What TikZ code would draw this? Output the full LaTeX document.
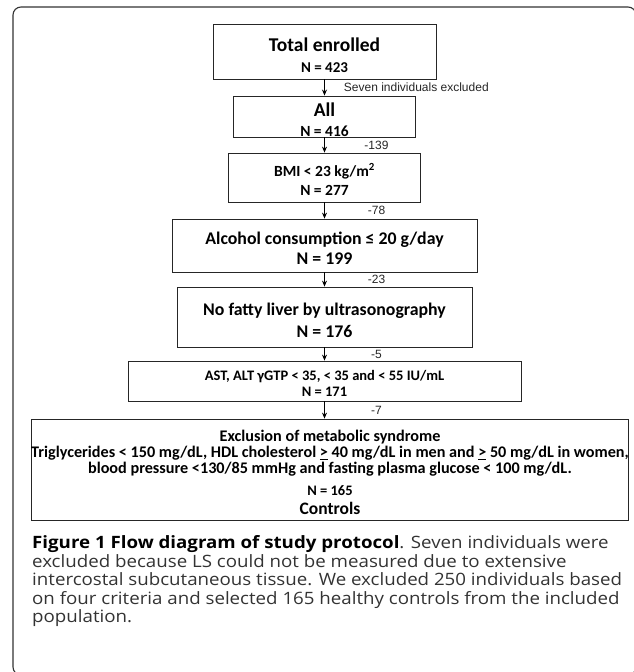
\documentclass[tikz,border=0pt]{standalone}
\usepackage{fontspec}
\setmainfont{Carlito}
\newfontfamily\arialfont{Liberation Sans}
\newfontfamily\capfont[FakeStretch=1.1]{Open Sans}
\usetikzlibrary{arrows.meta}
\newcommand{\boxline}{0.8pt}
\newcommand{\ulgeq}{\underline{>}}
\newcommand{\fs}[2]{\fontsize{#1}{#2}\selectfont}
\newcommand{\lift}{\rule{0pt}{1.05em}}

\begin{document}
\begin{tikzpicture}[x=1pt,y=-1pt]
            \useasboundingbox (0,0) rectangle (633,672);
            \draw[rounded corners=8pt,line width=1.1pt,black!80] (13,7) rectangle (636,675);

            \begin{scope}[every node/.style={rectangle,draw=black!85,line width=\boxline,align=center,inner sep=0pt}]
                \node[minimum width=223pt,minimum height=55pt,font=\bfseries\fs{15}{21}] (total) at (324.5,51.5)
                    {{\fs{19.5}{22}\lift Total enrolled}\\ N = 423};
                \node[minimum width=182pt,minimum height=41pt,font=\bfseries\fs{15.5}{20.5}] (all) at (324.5,116.5)
                    {{\fs{19.5}{22}\lift All}\\ N = 416};
                \node[minimum width=192pt,minimum height=49pt,font=\bfseries\fs{15.5}{19}] (bmi) at (324.5,177.5)
                    {\lift BMI < 23 kg/m\textsuperscript{2}\\ N = 277};
                \node[minimum width=305pt,minimum height=53pt,font=\bfseries\fs{17.8}{20}] (alc) at (324.5,245.5)
                    {\lift Alcohol consumption ≤ 20 g/day\\ N = 199};
                \node[minimum width=295pt,minimum height=60pt,font=\bfseries\fs{17.8}{22}] (liver) at (324.5,317)
                    {\lift No fatty liver by ultrasonography\\ N = 176};
                \node[minimum width=393pt,minimum height=40pt,font=\bfseries\fs{14.5}{16}] (ast) at (324.5,381)
                    {\lift AST, ALT γGTP < 35, < 35 and < 55 IU/mL\\ N = 171};
                \node[minimum width=597pt,minimum height=101pt,font=\bfseries\fs{16.2}{16}] (ctrl) at (330,469.5)
                    {\lift Exclusion of metabolic syndrome\\
                     Triglycerides < 150 mg/dL, HDL cholesterol \ulgeq{} 40 mg/dL in men and \ulgeq{} 50 mg/dL in women,\\
                     blood pressure <130/85 mmHg and fasting plasma glucose < 100 mg/dL.\\[6pt]
                     {\fs{14.5}{16}N = 165}\\[3pt]
                     {\fs{17.5}{19}Controls}};
            \end{scope}

            \begin{scope}[>={Stealth[black,length=6pt,width=5pt]},
                every edge/.style={draw=black,line width=0.9pt},
                every node/.style={font=\arialfont\fs{12}{14},text=black!85,inner sep=0pt}]
                \path [->] (total) edge node[anchor=west,xshift=19pt] (seven) {Seven individuals excluded} (all);
                \path [->] (all) edge node[xshift=52pt] (d139) {-139} (bmi);
                \path [->] (bmi) edge node[xshift=52pt] (d78) {-78} (alc);
                \path [->] (alc) edge node[xshift=52pt] (d23) {-23} (liver);
                \path [->] (liver) edge node[xshift=52pt] (d5) {-5} (ast);
                \path [->] (ast) edge node[xshift=52pt] (d7) {-7} (ast |- ctrl.north);
            \end{scope}

            \node[anchor=north west,align=left,inner sep=0pt,text=black!80,
                  font=\capfont\fs{17}{18.5}] (caption) at (32,535.5)
                {{\color{black}\bfseries Figure 1 Flow diagram of study protocol}. Seven individuals were\\
                 excluded because LS could not be measured due to extensive\\
                 intercostal subcutaneous tissue. We excluded 250 individuals based\\
                 on four criteria and selected 165 healthy controls from the included\\
                 population.};
            \end{tikzpicture}
\end{document}
